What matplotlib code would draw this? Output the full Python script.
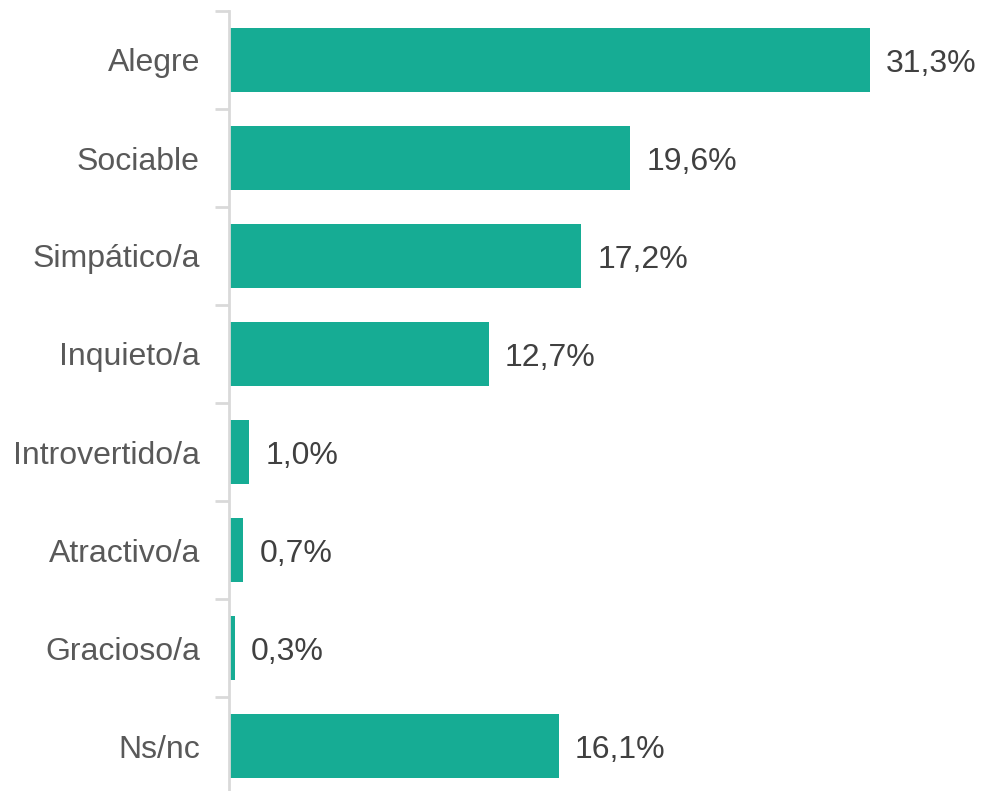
import matplotlib
matplotlib.use("Agg")
import matplotlib.pyplot as plt
import numpy as np

# datos
categorias = ["Alegre", "Sociable", "Simpático/a", "Inquieto/a", "Introvertido/a",
              "Atractivo/a", "Gracioso/a", "Ns/nc"]
valores = [31.3, 19.6, 17.2, 12.7, 1.0, 0.7, 0.3, 16.1]
etiquetas = ["31,3%", "19,6%", "17,2%", "12,7%", "1,0%", "0,7%", "0,3%", "16,1%"]

plt.rcParams['font.family'] = ['Liberation Sans', 'DejaVu Sans']

fig = plt.figure(figsize=(9.82, 7.91), dpi=100, facecolor='w')
ax = fig.add_axes([229/982, -4/791, 753/982, 784/791])

y = np.arange(len(categorias))
ax.barh(y, valores, height=0.65, color='#16AC94', zorder=2)
ax.set_ylim(len(categorias) - 0.5, -0.5)
ax.set_xlim(0, 753/20.48)

for yi, v, t in zip(y, valores, etiquetas):
    ax.text(v + 16/20.48, yi, t, va='center_baseline', ha='left', fontsize=23, color='#404040')

# ejes
for s in ['top', 'right', 'bottom']:
    ax.spines[s].set_visible(False)
ax.spines['left'].set_color('#d9d9d9')
ax.spines['left'].set_linewidth(2)
ax.set_xticks([])
ax.set_yticks(np.arange(len(categorias) + 1) - 0.5, minor=False)
ax.set_yticklabels([])
ax.tick_params(axis='y', which='major', length=10, width=2, color='#d9d9d9')
ax.set_yticks(y, minor=True)
ax.set_yticklabels(categorias, minor=True)
ax.tick_params(axis='y', which='minor', length=0, pad=21, labelsize=23, labelcolor='#595959')
for lab in ax.get_yticklabels(minor=True):
    lab.set_va('center_baseline')

plt.savefig('out.png', dpi=100)
